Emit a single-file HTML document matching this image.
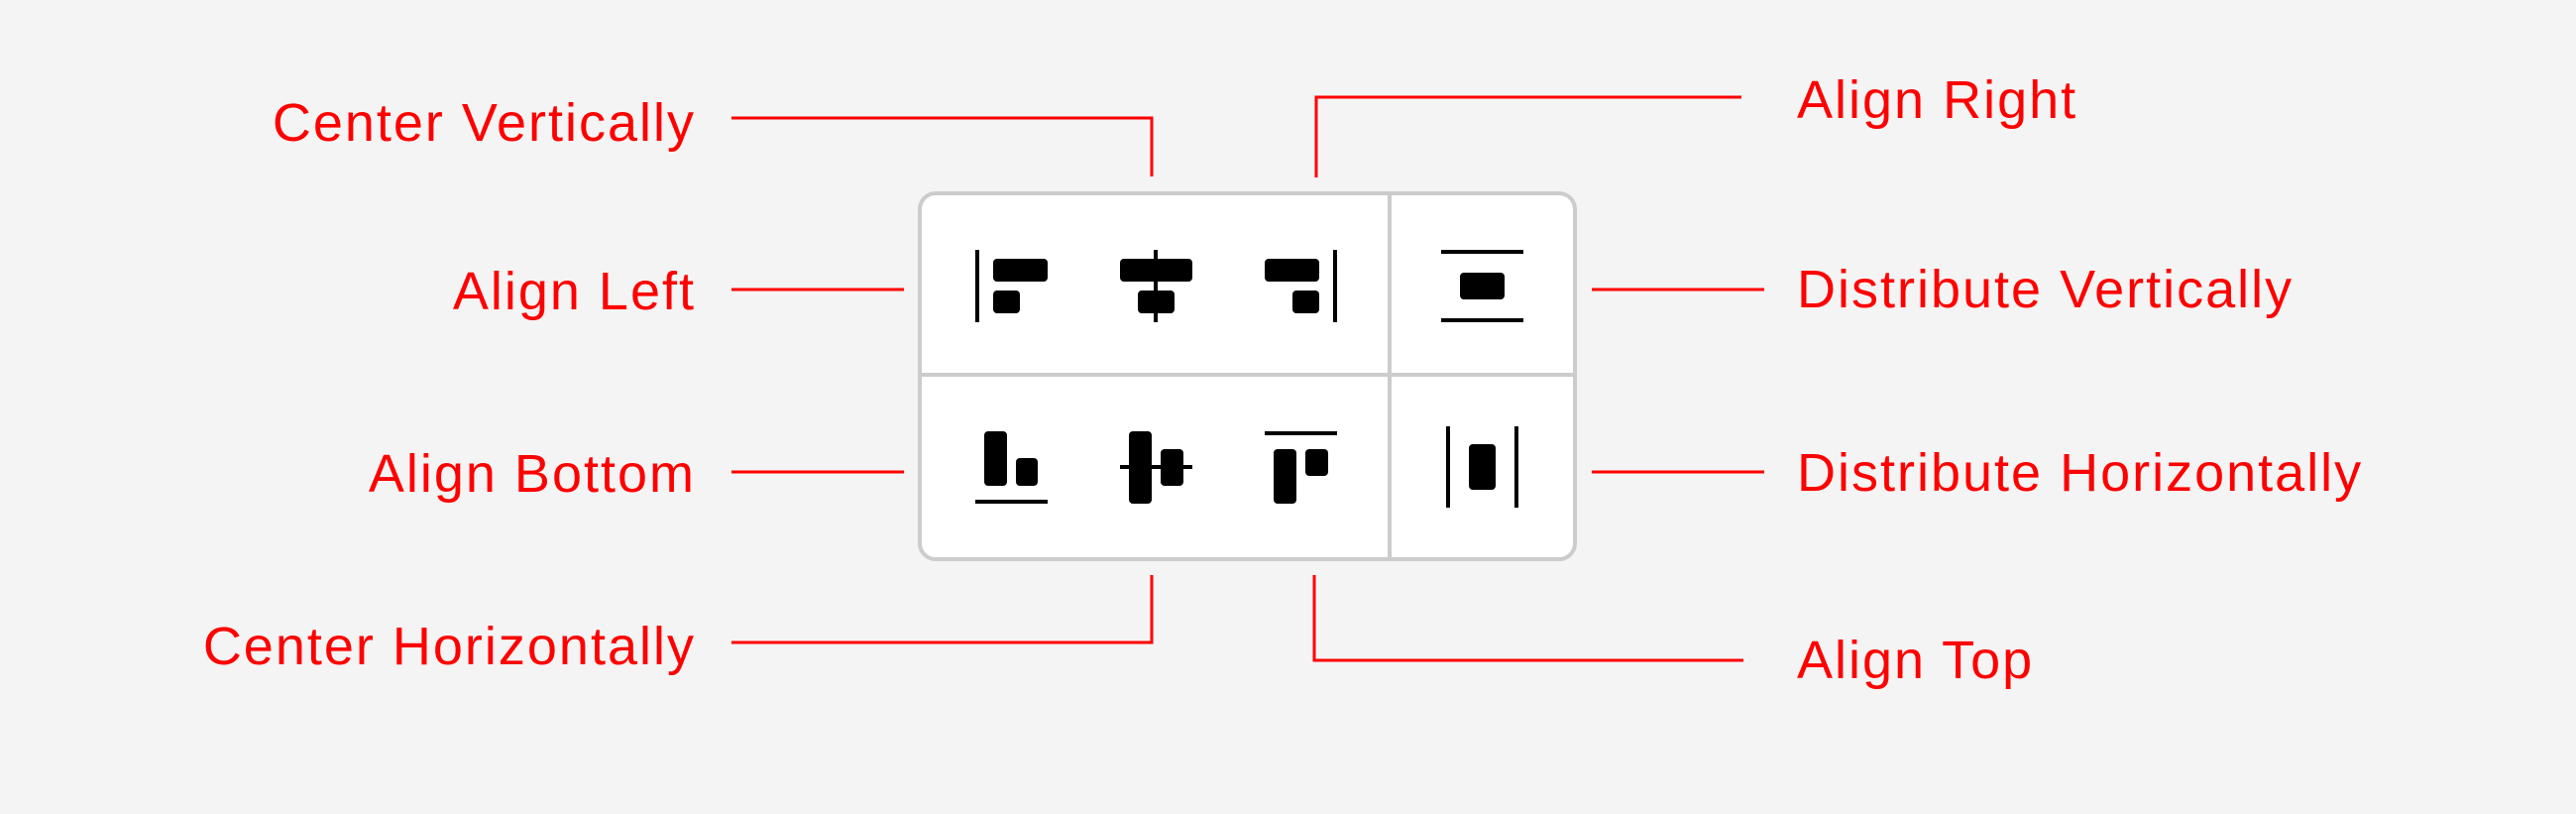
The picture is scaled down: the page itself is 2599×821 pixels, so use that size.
<!DOCTYPE html>
<html><head><style>html,body{margin:0;padding:0;background:#f4f4f4;}svg{display:block}</style></head>
<body>
<svg width="2599" height="821" viewBox="0 0 2599 821" xmlns="http://www.w3.org/2000/svg">
<rect width="2599" height="821" fill="#f4f4f4"/>
<rect x="928" y="195" width="661" height="369" rx="16" fill="#fff" stroke="#cccccc" stroke-width="4"/>
<line x1="1402" y1="195" x2="1402" y2="564" stroke="#cccccc" stroke-width="4"/>
<line x1="928" y1="378" x2="1589" y2="378" stroke="#cccccc" stroke-width="4"/>
<g fill="#000">
<rect x="984" y="252" width="4" height="73"/>
<rect x="1002" y="261" width="55" height="23" rx="4"/>
<rect x="1002" y="293" width="27" height="23" rx="4"/>
<rect x="1164" y="252" width="4" height="73"/>
<rect x="1130" y="261" width="73" height="23" rx="4"/>
<rect x="1148" y="293" width="37" height="23" rx="4"/>
<rect x="1345" y="252" width="4" height="73"/>
<rect x="1276" y="261" width="55" height="23" rx="4"/>
<rect x="1304" y="293" width="27" height="23" rx="4"/>
<rect x="1454" y="252" width="83" height="4"/>
<rect x="1454" y="321" width="83" height="4"/>
<rect x="1473" y="275" width="45" height="27" rx="4"/>
<rect x="993" y="435" width="23" height="55" rx="4"/>
<rect x="1025" y="462" width="22" height="28" rx="4"/>
<rect x="984" y="504" width="73" height="4"/>
<rect x="1130" y="469" width="73" height="4"/>
<rect x="1139" y="435" width="23" height="73" rx="4"/>
<rect x="1171" y="453" width="23" height="37" rx="4"/>
<rect x="1276" y="435" width="73" height="4"/>
<rect x="1285" y="453" width="23" height="55" rx="4"/>
<rect x="1317" y="453" width="23" height="27" rx="4"/>
<rect x="1459" y="430" width="4" height="82"/>
<rect x="1528" y="430" width="4" height="82"/>
<rect x="1482" y="448" width="27" height="46" rx="4"/>
</g>
<g stroke="#ff0000" stroke-width="3" fill="none">
<polyline points="738,119 1162,119 1162,178"/>
<polyline points="1757,98 1328,98 1328,179"/>
<line x1="738" y1="292" x2="912" y2="292"/>
<line x1="1606" y1="292" x2="1780" y2="292"/>
<line x1="738" y1="476" x2="912" y2="476"/>
<line x1="1606" y1="476" x2="1780" y2="476"/>
<polyline points="1162,580 1162,648 738,648"/>
<polyline points="1326,580 1326,666 1759,666"/>
</g>
<g fill="#ff0000" font-family="Liberation Sans, sans-serif" font-size="54" letter-spacing="2">
<text x="702" y="142" text-anchor="end">Center Vertically</text>
<text x="702" y="312" text-anchor="end">Align Left</text>
<text x="702" y="496" text-anchor="end">Align Bottom</text>
<text x="702" y="670" text-anchor="end">Center Horizontally</text>
<text x="1813" y="119">Align Right</text>
<text x="1813" y="310">Distribute Vertically</text>
<text x="1813" y="495">Distribute Horizontally</text>
<text x="1813" y="684">Align Top</text>
</g>
</svg>
</body></html>
